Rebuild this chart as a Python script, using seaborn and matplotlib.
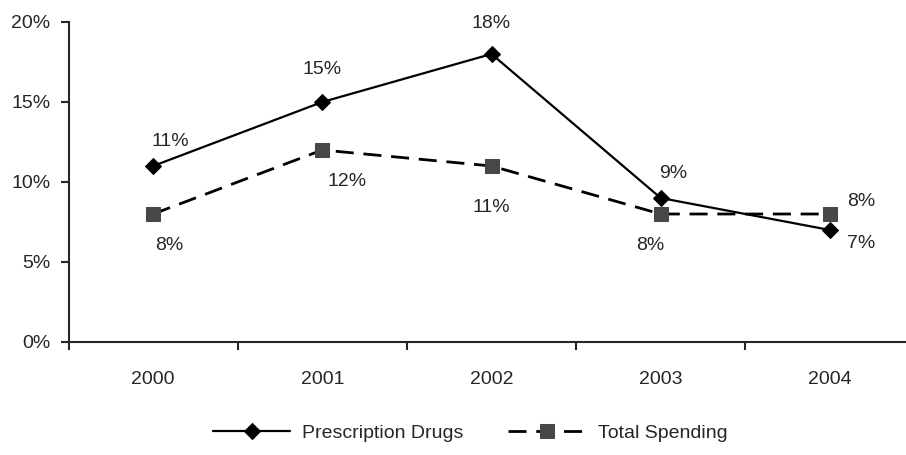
import numpy as np
import pandas as pd
import matplotlib
matplotlib.use('Agg')
import matplotlib.pyplot as plt
import seaborn as sns

# Chart data
years = ['2000', '2001', '2002', '2003', '2004']
rx_drugs = [11, 15, 18, 9, 7]
total_spending = [8, 12, 11, 8, 8]
y_ticks = [0, 5, 10, 15, 20]

# label offsets (pixels) relative to each point
rx_offsets = [(17, 25), (0, 33), (0, 31), (12, 25), (31, -14)]
ts_offsets = [(16, -32), (25, -31), (0, -42), (-10, -32), (31, 13)]

sns.set_style('ticks')
plt.rcParams['font.family'] = ['Liberation Sans', 'DejaVu Sans']

fig = plt.figure(figsize=(9.06, 4.55), dpi=100)
ax = fig.add_axes([68.5 / 906, 113 / 455, 846 / 906, 320 / 455])

df = pd.DataFrame({'year': years, 'rx': rx_drugs, 'ts': total_spending})

sns.lineplot(data=df, x='year', y='rx', ax=ax, color='black', linewidth=1.6,
             marker='D', markersize=8.5, markerfacecolor='black', markeredgecolor='black',
             label='Prescription Drugs')
sns.lineplot(data=df, x='year', y='ts', ax=ax, color='black', linewidth=2.0,
             linestyle=(0, (6.5, 3.5)),
             marker='s', markersize=10.5, markerfacecolor='#474747', markeredgecolor='#474747',
             label='Total Spending')

fs = 14
for i, (v, off) in enumerate(zip(rx_drugs, rx_offsets)):
    ax.annotate(f'{v}%', (i, v), xytext=off, textcoords='offset pixels',
                ha='center', va='center', fontsize=fs)
for i, (v, off) in enumerate(zip(total_spending, ts_offsets)):
    ax.annotate(f'{v}%', (i, v), xytext=off, textcoords='offset pixels',
                ha='center', va='center', fontsize=fs)

ax.set_xlim(-0.5, len(years) - 0.5)
ax.set_ylim(0, 20)
ax.set_yticks(y_ticks)
ax.set_yticklabels([f'{t}%' for t in y_ticks], fontsize=fs)
ax.set_xticks(range(len(years)))
ax.set_xticklabels(years, fontsize=fs)
ax.set_xticks(np.arange(-0.5, len(years), 1), minor=True)
ax.tick_params(axis='x', which='major', length=0, pad=21)
ax.tick_params(axis='x', which='minor', length=6, width=1.5, direction='out')
ax.tick_params(axis='y', length=6, width=1.5, direction='out', pad=7)
ax.set_xlabel('')
ax.set_ylabel('')
for s in ['top', 'right']:
    ax.spines[s].set_visible(False)
for s in ['left', 'bottom']:
    ax.spines[s].set_linewidth(1.5)

ax.legend(loc='center', bbox_to_anchor=(470 / 906, 22 / 455), bbox_transform=fig.transFigure,
          ncol=2, frameon=False, fontsize=fs, handlelength=4.0, columnspacing=2.3,
          handletextpad=0.6)

fig.savefig('out.png', dpi=100)
